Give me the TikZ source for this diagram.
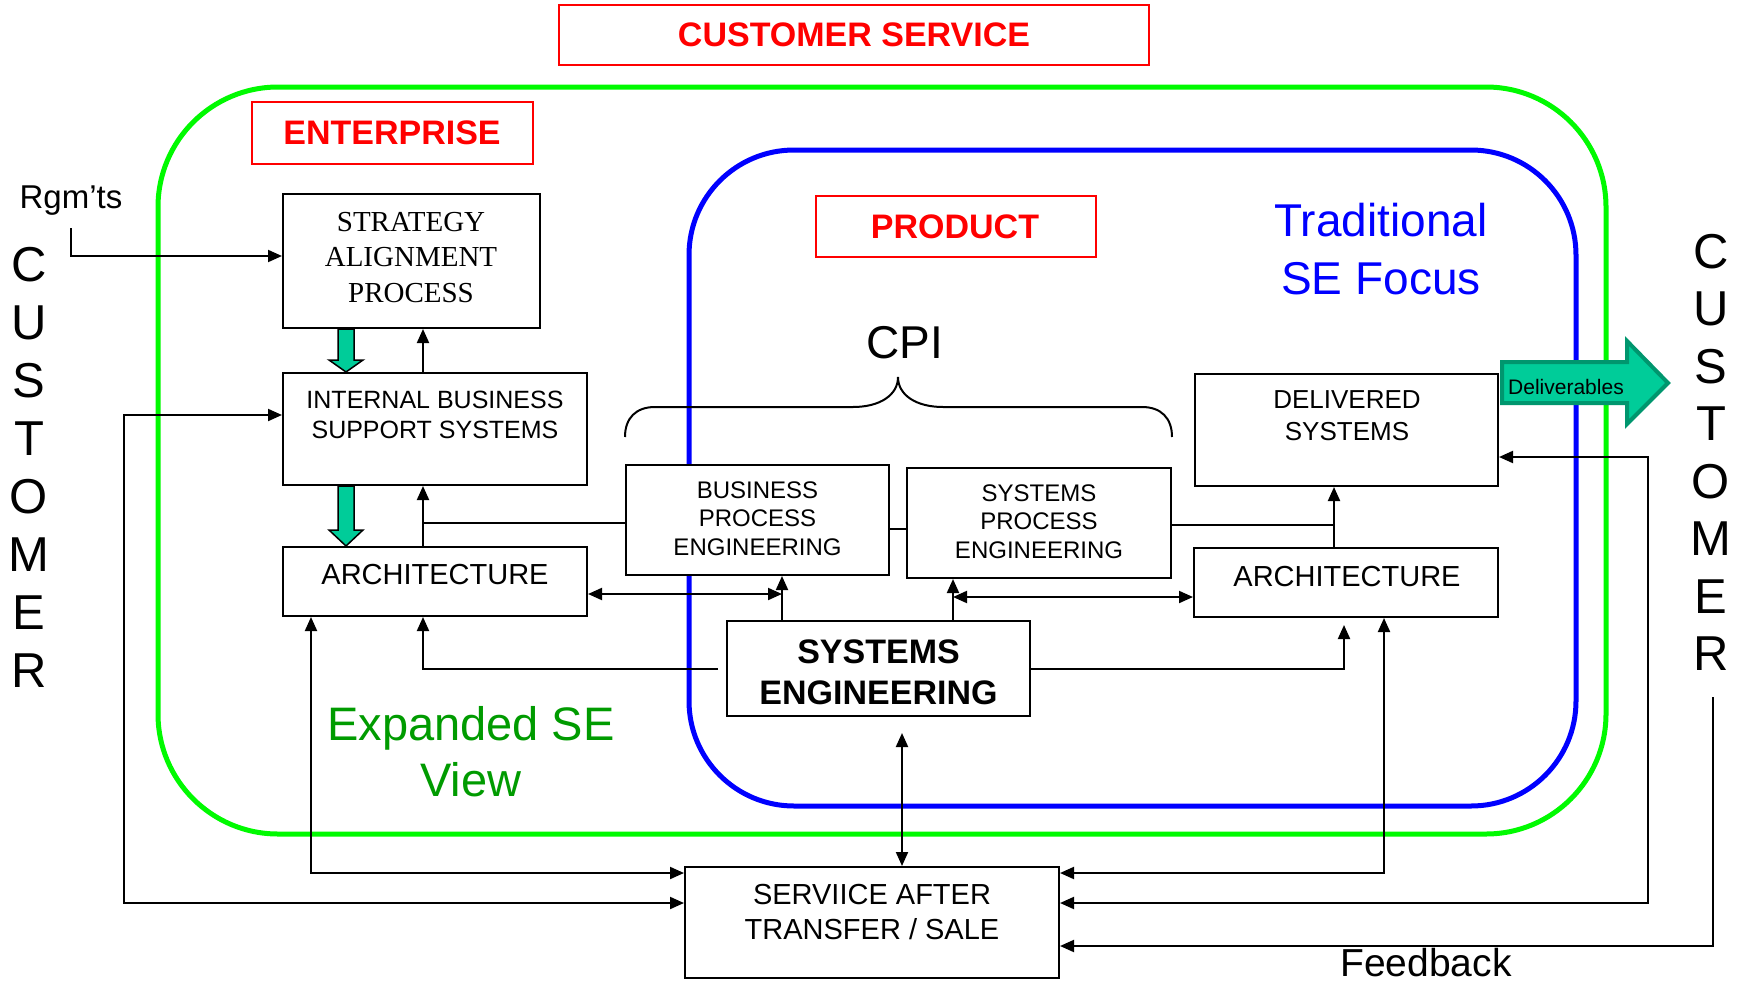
\documentclass[tikz,border=0pt]{standalone}
\usepackage{fontspec}
\setmainfont{Liberation Sans}
\newfontfamily\tnr{Liberation Serif}
\usetikzlibrary{arrows.meta,calc}
\newcommand\fsz[2]{\fontsize{#1}{#2}\selectfont}
\definecolor{redc}{RGB}{255,0,0}
\definecolor{grn}{RGB}{0,250,0}
\definecolor{blu}{RGB}{0,0,255}
\definecolor{dkgrn}{RGB}{0,155,0}
\definecolor{teal1}{RGB}{0,204,153}
\definecolor{teal2}{RGB}{0,150,110}
\newcommand\fatdown[3]{% #1 top, #2 tip, #3 head length
  \draw[fat] (#2) -- ($(#2)+(-17,-#3)$) -- ($(#2)+(-8,-#3)$) -- ($(#1)+(-8,0)$)
    -- ($(#1)+(8,0)$) -- ($(#2)+(8,-#3)$) -- ($(#2)+(17,-#3)$) -- cycle;}
\begin{document}
\begin{tikzpicture}[x=1pt,y=-1pt,
  box/.style={draw=black, line width=2pt, fill=white, inner sep=0pt},
  redbox/.style={draw=redc, line width=2pt, inner sep=0pt},
  txt/.style={inner sep=0pt, align=center},
  conn/.style={draw=black, line width=2pt},
  arr/.style={conn, -{Triangle[length=14pt,width=12pt]}},
  darr/.style={conn, {Triangle[length=14pt,width=12pt]}-{Triangle[length=14pt,width=12pt]}},
  fat/.style={fill=teal1, draw=black, line width=1.5pt, line join=miter},
]
\useasboundingbox (0,0) rectangle (1743,983);
\fill[white] (0,0) rectangle (1743,983);

% scopes
\draw[grn, line width=5pt, rounded corners=120pt] (158,87) rectangle (1606,834);
\draw[blu, line width=5pt, rounded corners=105pt] (689,150) rectangle (1576,806);

% red title boxes
\node[redbox, minimum width=590pt, minimum height=60pt] (csbox) at (854,35) {};
\node[txt, text=redc, font=\bfseries\fsz{34}{40}] (cs) at (854,35) {CUSTOMER SERVICE};
\node[redbox, minimum width=281pt, minimum height=62pt] (entbox) at (392.5,133) {};
\node[txt, text=redc, font=\bfseries\fsz{34}{40}] (ent) at (392,133) {ENTERPRISE};
\node[redbox, minimum width=280pt, minimum height=61pt] (prodbox) at (956,226.5) {};
\node[txt, text=redc, font=\bfseries\fsz{34}{40}] (prod) at (955,227) {PRODUCT};

% free texts
\node[txt, text=blu, font=\fsz{46}{58}] (trad) at (1381,249) {Traditional\\SE Focus};
\node[txt, text=dkgrn, font=\fsz{47}{56}] (exp) at (471,752) {Expanded SE\\View};
\node[txt, font=\fsz{46}{50}] (cpi) at (905,343) {CPI};
\node[txt, anchor=base, font=\fsz{33}{40}] (rgm) at (71,208) {Rgm’ts};
\node[txt, font=\fsz{49}{58}] (custL) at (29,467) {C\\U\\S\\T\\O\\M\\E\\R};
\node[txt, font=\fsz{49}{57.5}] (custR) at (1711,452.5) {C\\U\\S\\T\\O\\M\\E\\R};
\node[txt, font=\fsz{39}{46}] (fb) at (1426,963) {Feedback};

% brace
\draw[line width=2pt] (625,437) .. controls (625,418) and (636,407) .. (655,407) -- (853,407)
  .. controls (880,407) and (898,395) .. (898,377)
  .. controls (898,395) and (916,407) .. (943,407) -- (1142,407)
  .. controls (1161,407) and (1172,418) .. (1172,437);

% boxes
\node[box, minimum width=257pt, minimum height=134pt] (strat) at (411.5,261) {};
\node[box, minimum width=304pt, minimum height=112pt] (ibss) at (435,429) {};
\node[box, minimum width=304pt, minimum height=69pt] (archL) at (435,581.5) {};
\node[box, minimum width=263pt, minimum height=110pt] (bpe) at (757.5,520) {};
\node[box, minimum width=264pt, minimum height=110pt] (spe) at (1039,523) {};
\node[box, minimum width=303pt, minimum height=112pt] (deliv) at (1346.5,430) {};
\node[box, minimum width=304pt, minimum height=69pt] (archR) at (1346,582.5) {};
\node[box, minimum width=303pt, minimum height=95pt] (se) at (878.5,668.5) {};
\node[box, minimum width=374pt, minimum height=111pt] (serv) at (872,922.5) {};

\node[txt, font=\tnr\fsz{29}{35.5}] (stratT) at (411,257.5) {STRATEGY\\ALIGNMENT\\PROCESS};
\node[txt, font=\fsz{25}{30}] (ibssT) at (435,415) {INTERNAL BUSINESS\\SUPPORT SYSTEMS};
\node[txt, font=\fsz{29}{35}] (archLT) at (435,575) {ARCHITECTURE};
\node[txt, font=\fsz{24}{28.5}] (bpeT) at (757.5,518.5) {BUSINESS\\PROCESS\\ENGINEERING};
\node[txt, font=\fsz{24}{28.5}] (speT) at (1039,521.5) {SYSTEMS\\PROCESS\\ENGINEERING};
\node[txt, font=\fsz{26}{32}] (delT) at (1347,416) {DELIVERED\\SYSTEMS};
\node[txt, font=\fsz{29}{35}] (archRT) at (1347,577) {ARCHITECTURE};
\node[txt, font=\bfseries\fsz{34}{41}] (seT) at (878.5,672.5) {SYSTEMS\\ENGINEERING};
\node[txt, font=\fsz{29}{35}] (servT) at (872,912.5) {SERVIICE AFTER\\TRANSFER / SALE};

% deliverables arrow
\draw[fill=teal1, draw=teal2, line width=4pt, line join=miter]
  (1502,362) -- (1627,362) -- (1627,341) -- (1668,383) -- (1627,424) -- (1627,403) -- (1502,403) -- cycle;
\node[txt, font=\fsz{21}{25}] (dl) at (1566,387) {Deliverables};

% helper x positions
\coordinate (c71) at (71,228);
\coordinate (c124) at (124,0);
\coordinate (c311) at (311,0);
\coordinate (c346) at (346,0);
\coordinate (c423) at (423,0);
\coordinate (j1) at (782,0);
\coordinate (c902) at (902,0);
\coordinate (j2) at (953,0);
\coordinate (c1334) at (1334,0);
\coordinate (c1344) at (1344,0);
\coordinate (c1384) at (1384,0);
\coordinate (c1648) at (1648,0);
\coordinate (fbS) at (1713,697);

% fat green arrows
\coordinate (f1a) at (strat.south -| c346);
\coordinate (f1b) at (ibss.north -| c346);
\coordinate (f2a) at (ibss.south -| c346);
\coordinate (f2b) at (archL.north -| c346);
\fatdown{f1a}{f1b}{12}
\fatdown{f2a}{f2b}{16}

% connectors
\draw[arr] (c71) |- ([yshift=5pt]strat.west);
\draw[arr] (ibss.north -| c423) -- (strat.south -| c423);
\draw[arr] (archL.north -| c423) -- (ibss.south -| c423);
\draw[conn] ([yshift=-3pt]bpe.west) -- ([yshift=-3pt]bpe.west -| c423);
\draw[conn] ([yshift=-9pt]bpe.east) -- ([yshift=-9pt]bpe.east -| spe.west);
\draw[conn] ([yshift=-2pt]spe.east) -- ([yshift=-2pt]spe.east -| c1334);
\draw[arr] (archR.north -| c1334) -- (deliv.south -| c1334);
\draw[darr] ([yshift=-12.5pt]archL.east) -- ([yshift=-12.5pt]archL.east -| j1);
\draw[arr] (se.north -| j1) -- (bpe.south -| j1);
\draw[arr] (se.north -| j2) -- (spe.south -| j2);
\draw[darr] ([yshift=-14.5pt]archR.west -| j2) -- ([yshift=-14.5pt]archR.west);
\draw[arr, shorten <=8pt] (se.west) -| (archL.south -| c423);
\draw[arr, shorten >=7pt] (se.east) -| (archR.south -| c1344);
\draw[darr, shorten <=16pt] (se.south -| c902) -- (serv.north -| c902);
\draw[darr] (archL.south -| c311) |- ([yshift=49.5pt]serv.west);
\draw[darr] (archR.south -| c1384) |- ([yshift=49.5pt]serv.east);
\coordinate (sw2) at ([yshift=19.5pt]serv.west);
\coordinate (se2) at ([yshift=19.5pt]serv.east);
\draw[darr] ([yshift=14pt]ibss.west) -| (c124 |- sw2) -- (sw2);
\draw[darr] ([yshift=-27pt]deliv.east) -| (c1648 |- se2) -- (se2);
\draw[arr] (fbS) |- ([yshift=-23.5pt]serv.east);
\end{tikzpicture}
\end{document}
